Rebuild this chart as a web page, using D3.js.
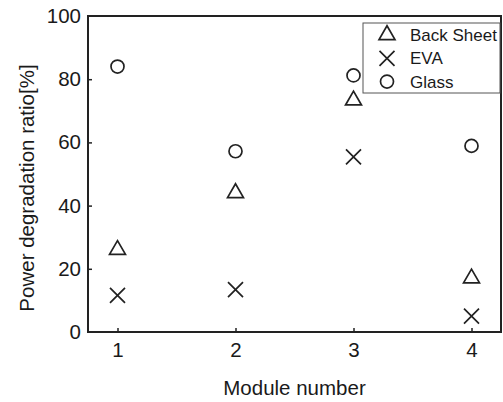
<!DOCTYPE html>
<html lang="en">
<head>
<meta charset="utf-8">
<title>Power degradation ratio</title>
<script src="https://cdnjs.cloudflare.com/ajax/libs/d3/7.8.5/d3.min.js"></script>
<style>
  body { margin: 0; background: #fff; }
  text { font-family: "Liberation Sans", Arial, sans-serif; fill: #1a1a1a; }
</style>
</head>
<body>
<div id="chart"></div>
<script>
// data
var modules = [1, 2, 3, 4];
var backSheet = [26, 44, 73.3, 17];
var eva = [11.6, 13.4, 55.4, 5];
var glass = [84, 57.2, 81.2, 58.9];
var yTicks = [0, 20, 40, 60, 80, 100];

var W = 503, H = 402;
var margin = { top: 16, right: 2, bottom: 70, left: 88 };

var svg = d3.select("#chart").append("svg")
    .attr("width", W)
    .attr("height", H);

var x = d3.scaleLinear().domain([0.75, 4.25]).range([margin.left, W - margin.right]);
var y = d3.scaleLinear().domain([0, 100]).range([H - margin.bottom, margin.top]);

//axes, ticks pointing inward
var xAxis = d3.axisBottom(x).tickValues(modules).tickSize(-4).tickPadding(10).tickFormat(d3.format("d"));
var yAxis = d3.axisLeft(y).tickValues(yTicks).tickSize(-4).tickPadding(7);

var gx = svg.append("g")
    .attr("transform", "translate(0," + y(0) + ")")
    .call(xAxis);
var gy = svg.append("g")
    .attr("transform", "translate(" + x(0.75) + ",0)")
    .call(yAxis);

[gx, gy].forEach(function(g) {
    g.select(".domain").remove();
    g.selectAll("line").attr("stroke", "#222").attr("stroke-width", 1.5);
    g.selectAll("text").style("font-size", "20.5px").attr("fill", "#1a1a1a");
});
// no tick mark at the corners
gy.selectAll(".tick").filter(function(d) { return d === 0 || d === 100; }).select("line").remove();

// frame
svg.append("rect")
    .attr("x", x(0.75))
    .attr("y", y(100))
    .attr("width", x(4.25) - x(0.75))
    .attr("height", y(0) - y(100))
    .attr("fill", "none")
    .attr("stroke", "#222")
    .attr("stroke-width", 2);

// axis titles
svg.append("text")
    .attr("x", (x(0.75) + x(4.25)) / 2)
    .attr("y", 395)
    .attr("text-anchor", "middle")
    .style("font-size", "20.5px")
    .text("Module number");

svg.append("text")
    .attr("transform", "translate(34,188) rotate(-90)")
    .attr("text-anchor", "middle")
    .style("font-size", "20.5px")
    .text("Power degradation ratio[%]");

var triangle = d3.symbol().type(d3.symbolTriangle).size(110);

function drawTri(g, cx, cy) {
    g.append("path")
        .attr("d", triangle())
        .attr("transform", "translate(" + cx + "," + cy + ")")
        .attr("fill", "none").attr("stroke", "#222").attr("stroke-width", 1.7);
}
function drawX(g, cx, cy) {
    var s = 7.5;
    g.append("path")
        .attr("d", "M" + (cx - s) + "," + (cy - s) + "L" + (cx + s) + "," + (cy + s) +
                   "M" + (cx - s) + "," + (cy + s) + "L" + (cx + s) + "," + (cy - s))
        .attr("fill", "none").attr("stroke", "#222").attr("stroke-width", 1.7);
}
function drawO(g, cx, cy) {
    g.append("circle")
        .attr("cx", cx).attr("cy", cy).attr("r", 6.5)
        .attr("fill", "none").attr("stroke", "#222").attr("stroke-width", 1.7);
}

var marks = svg.append("g");
modules.forEach(function(m, i) {
    drawTri(marks, x(m), y(backSheet[i]));
    drawX(marks, x(m), y(eva[i]));
    drawO(marks, x(m), y(glass[i]));
});

// legend
var legend = svg.append("g");
legend.append("rect")
    .attr("x", 363).attr("y", 23)
    .attr("width", 137).attr("height", 70)
    .attr("fill", "#fff").attr("stroke", "#555").attr("stroke-width", 1);
var items = [["Back Sheet", drawTri], ["EVA", drawX], ["Glass", drawO]];
items.forEach(function(it, i) {
    var cy = 35 + i * 23.3;
    it[1](legend, 387, cy);
    legend.append("text")
        .attr("x", 410).attr("y", cy + 6)
        .style("font-size", "17px")
        .text(it[0]);
});
</script>
</body>
</html>
